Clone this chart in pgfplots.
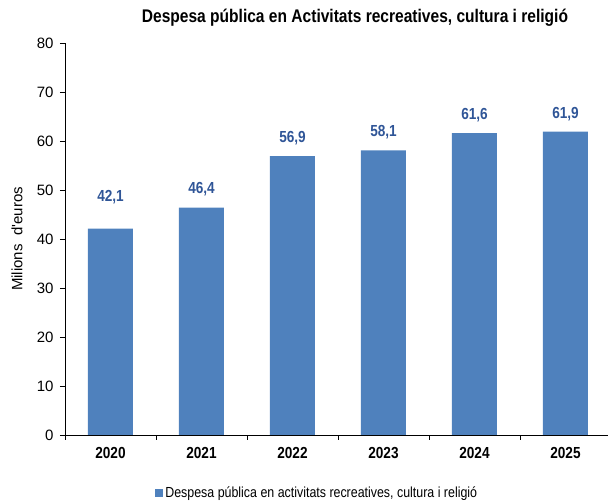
\documentclass[border=0pt]{standalone}
\usepackage{pgfplots}
\pgfplotsset{compat=1.18}
\usepackage{pgfplotstable}
\usepackage{fontspec}
\setmainfont{Liberation Sans}[FakeStretch=0.85]
\newfontfamily\wide{Liberation Sans}
\definecolor{barblue}{HTML}{4F81BD}
\definecolor{lblblue}{HTML}{2F5597}

% year index, value, label offset (pt)
\pgfplotstableread{
x  val   off
0  42.1  32
1  46.4  18
2  56.9  18
3  58.1  18
4  61.6  18
5  61.9  18
}\despesa

\begin{document}
\begin{tikzpicture}
% page = 608 x 503; axis origin sits at pixel (65,435)
\useasboundingbox (-65pt,-68pt) rectangle (543pt,435pt);
\begin{axis}[
    anchor=south west,
    scale only axis,
    width=546pt, height=392pt,
    ybar, bar width=45pt,
    xmin=-0.5, xmax=5.5,
    ymin=0, ymax=80,
    ytick={0,10,...,80},
    xtick={0,...,5},
    xticklabels={2020,2021,2022,2023,2024,2025},
    minor xtick={-0.5,0.5,...,5.5},
    major x tick style={draw=none},
    tick align=outside,
    major tick length=5pt, minor tick length=5pt,
    axis x line*=bottom, axis y line*=left,
    axis line style={black, line width=0.8pt},
    tick style={black, line width=0.6pt},
    /pgf/number format/assume math mode=true,
    yticklabel style={font=\wide\fontsize{15}{15}\selectfont, xshift=-3pt},
    xticklabel style={font=\bfseries\fontsize{16}{16}\selectfont, yshift=-4pt},
    ylabel={Milions\ \ d'euros},
    every axis y label/.style={at={(-48pt,196pt)}, rotate=90, anchor=center,
        font=\wide\fontsize{15}{15}\selectfont},
    nodes near coords,
    visualization depends on={\thisrow{off} \as \labeloff},
    every node near coord/.append style={anchor=center, yshift=\labeloff,
        font=\bfseries\fontsize{16}{16}\selectfont, text=lblblue,
        /pgf/number format/use comma, /pgf/number format/fixed,
        /pgf/number format/fixed zerofill, /pgf/number format/precision=1},
    legend style={draw=none, at={(0.462,-0.148)}, anchor=center,
        font=\fontsize{14.6}{14.6}\selectfont, inner sep=0pt},
    legend image code/.code={\fill[barblue] (0,-4pt) rectangle (8pt,4pt);},
]
\addplot[fill=barblue, draw=none] table[x=x, y=val] {\despesa};
\addlegendentry{Despesa pública en activitats recreatives, cultura i religió}
\end{axis}
\node[font=\bfseries\fontsize{18.3}{18.3}\selectfont] at (290pt,417pt) {Despesa pública en Activitats recreatives, cultura i religió};
\end{tikzpicture}
\end{document}
